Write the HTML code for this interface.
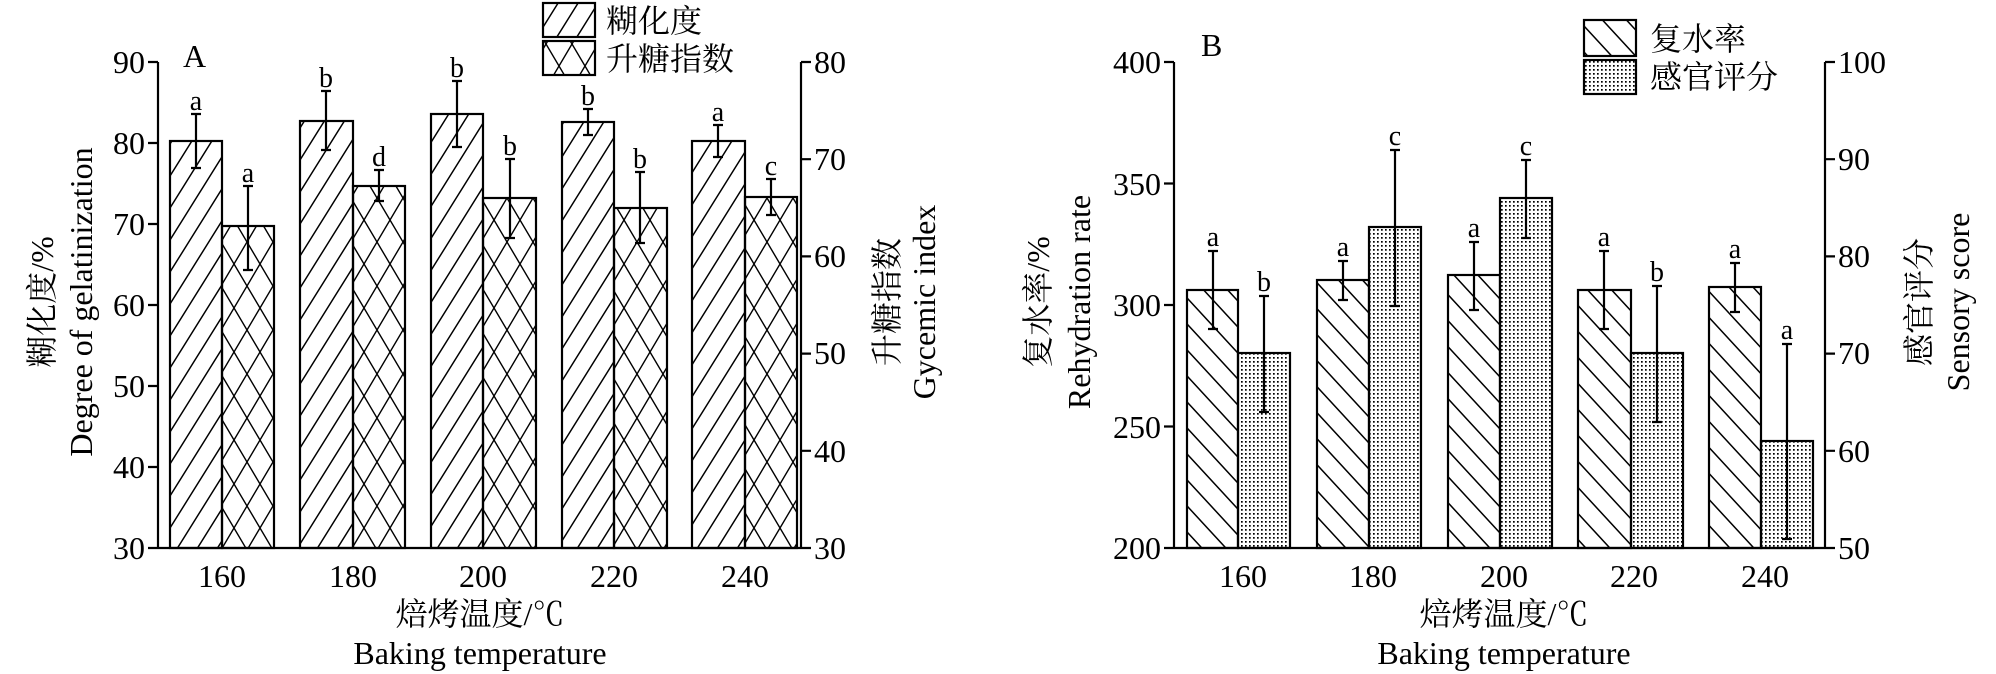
<!DOCTYPE html>
<html><head><meta charset="utf-8"><style>
html,body{margin:0;padding:0;background:#fff}
svg{display:block}
text{font-family:"Liberation Serif","Noto Serif CJK SC","Noto Sans CJK SC",serif;fill:#000}
</style></head><body>
<svg width="1996" height="674" viewBox="0 0 1996 674" xmlns="http://www.w3.org/2000/svg">
<defs>
<pattern id="fw" patternUnits="userSpaceOnUse" width="20" height="32"><path d="M-5,40 L25,-8 M-25,40 L5,-8 M15,40 L45,-8" stroke="#000" stroke-width="1.5" fill="none"/></pattern>
<pattern id="cx" patternUnits="userSpaceOnUse" width="26" height="44"><path d="M0,0 L26,44 M0,44 L26,0 M-26,0 L26,88 M0,-44 L52,44" stroke="#000" stroke-width="1.4" fill="none"/></pattern>
<pattern id="bk" patternUnits="userSpaceOnUse" width="24" height="26"><path d="M0,0 L24,26 M-24,0 L24,52 M0,-26 L48,26" stroke="#000" stroke-width="1.5" fill="none"/></pattern>
<pattern id="dt" patternUnits="userSpaceOnUse" width="4" height="4"><rect x="1" y="1" width="1.7" height="1.7" fill="#000"/></pattern>
</defs>
<rect width="1996" height="674" fill="#fff"/>

<!-- ===== Panel A ===== -->
<g stroke="#000" stroke-width="2.2" fill="none">
<line x1="158" y1="62" x2="158" y2="548"/>
<line x1="801" y1="62" x2="801" y2="548"/>
<line x1="158" y1="548" x2="801" y2="548"/>
<path d="M148,62H158 M148,143H158 M148,224H158 M148,305H158 M148,386H158 M148,467H158 M148,548H158"/>
<path d="M801,62H811 M801,159.2H811 M801,256.4H811 M801,353.6H811 M801,450.8H811 M801,548H811"/>
</g>
<g font-size="32" text-anchor="end">
<text x="145" y="73">90</text><text x="145" y="154">80</text><text x="145" y="235">70</text><text x="145" y="316">60</text><text x="145" y="397">50</text><text x="145" y="478">40</text><text x="145" y="559">30</text>
</g>
<g font-size="32" text-anchor="start">
<text x="814" y="73">80</text><text x="814" y="170">70</text><text x="814" y="267">60</text><text x="814" y="364">50</text><text x="814" y="462">40</text><text x="814" y="559">30</text>
</g>
<text x="183" y="67" font-size="32">A</text>
<g stroke="#000" stroke-width="2.2">
<rect x="170" y="141" width="52" height="407" fill="url(#fw)"/>
<rect x="222" y="226" width="52" height="322" fill="url(#cx)"/>
<rect x="300" y="121" width="53" height="427" fill="url(#fw)"/>
<rect x="353" y="186" width="52" height="362" fill="url(#cx)"/>
<rect x="431" y="114" width="52" height="434" fill="url(#fw)"/>
<rect x="483" y="198" width="53" height="350" fill="url(#cx)"/>
<rect x="562" y="122" width="52" height="426" fill="url(#fw)"/>
<rect x="614" y="208" width="53" height="340" fill="url(#cx)"/>
<rect x="692" y="141" width="53" height="407" fill="url(#fw)"/>
<rect x="745" y="197" width="52" height="351" fill="url(#cx)"/>
</g>
<g stroke="#000" stroke-width="2.2" fill="none">
<path d="M196,114V168 M191,114H201 M191,168H201"/>
<path d="M248,186V270 M243,186H253 M243,270H253"/>
<path d="M326,91V150 M321,91H331 M321,150H331"/>
<path d="M379,170V201 M374,170H384 M374,201H384"/>
<path d="M457,81V147 M452,81H462 M452,147H462"/>
<path d="M510,159V238 M505,159H515 M505,238H515"/>
<path d="M588,109V135 M583,109H593 M583,135H593"/>
<path d="M640,172V243 M635,172H645 M635,243H645"/>
<path d="M718,125V157 M713,125H723 M713,157H723"/>
<path d="M771,179V215 M766,179H776 M766,215H776"/>
</g>
<g font-size="28" text-anchor="middle">
<text x="196" y="110">a</text><text x="248" y="182">a</text>
<text x="326" y="87">b</text><text x="379" y="166">d</text>
<text x="457" y="77">b</text><text x="510" y="155">b</text>
<text x="588" y="105">b</text><text x="640" y="168">b</text>
<text x="718" y="121">a</text><text x="771" y="175">c</text>
</g>
<g font-size="32" text-anchor="middle">
<text x="222" y="587">160</text><text x="353" y="587">180</text><text x="483" y="587">200</text><text x="614" y="587">220</text><text x="745" y="587">240</text>
<text x="480" y="625">焙烤温度/℃</text>
<text x="480" y="664">Baking temperature</text>
</g>
<text transform="translate(53,302) rotate(-90)" font-size="32" text-anchor="middle">糊化度/%</text>
<text transform="translate(92,302) rotate(-90)" font-size="32" text-anchor="middle">Degree of gelatinization</text>
<text transform="translate(898,302) rotate(-90)" font-size="32" text-anchor="middle">升糖指数</text>
<text transform="translate(935,302) rotate(-90)" font-size="32" text-anchor="middle">Gycemic index</text>
<rect x="543" y="3" width="52" height="34" fill="url(#fw)" stroke="#000" stroke-width="2.2"/>
<rect x="543" y="41" width="52" height="34" fill="url(#cx)" stroke="#000" stroke-width="2.2"/>
<text x="606" y="32" font-size="32">糊化度</text>
<text x="606" y="70" font-size="32">升糖指数</text>

<!-- ===== Panel B ===== -->
<g stroke="#000" stroke-width="2.2" fill="none">
<line x1="1174" y1="62" x2="1174" y2="548"/>
<line x1="1825" y1="62" x2="1825" y2="548"/>
<line x1="1174" y1="548" x2="1825" y2="548"/>
<path d="M1164,62H1174 M1164,183.5H1174 M1164,305H1174 M1164,426.5H1174 M1164,548H1174"/>
<path d="M1825,62H1835 M1825,159.2H1835 M1825,256.4H1835 M1825,353.6H1835 M1825,450.8H1835 M1825,548H1835"/>
</g>
<g font-size="32" text-anchor="end">
<text x="1161" y="73">400</text><text x="1161" y="195">350</text><text x="1161" y="316">300</text><text x="1161" y="438">250</text><text x="1161" y="559">200</text>
</g>
<g font-size="32" text-anchor="start">
<text x="1838" y="73">100</text><text x="1838" y="170">90</text><text x="1838" y="267">80</text><text x="1838" y="364">70</text><text x="1838" y="462">60</text><text x="1838" y="559">50</text>
</g>
<text x="1201" y="56" font-size="32">B</text>
<g stroke="#000" stroke-width="2.2">
<rect x="1187" y="290" width="51" height="258" fill="url(#bk)"/>
<rect x="1238" y="353" width="52" height="195" fill="url(#dt)"/>
<rect x="1317" y="280" width="52" height="268" fill="url(#bk)"/>
<rect x="1369" y="227" width="52" height="321" fill="url(#dt)"/>
<rect x="1448" y="275" width="52" height="273" fill="url(#bk)"/>
<rect x="1500" y="198" width="52" height="350" fill="url(#dt)"/>
<rect x="1578" y="290" width="53" height="258" fill="url(#bk)"/>
<rect x="1631" y="353" width="52" height="195" fill="url(#dt)"/>
<rect x="1709" y="287" width="52" height="261" fill="url(#bk)"/>
<rect x="1761" y="441" width="52" height="107" fill="url(#dt)"/>
</g>
<g stroke="#000" stroke-width="2.2" fill="none">
<path d="M1213,251V329 M1208,251H1218 M1208,329H1218"/>
<path d="M1264,296V412 M1259,296H1269 M1259,412H1269"/>
<path d="M1343,261V300 M1338,261H1348 M1338,300H1348"/>
<path d="M1395,150V306 M1390,150H1400 M1390,306H1400"/>
<path d="M1474,242V310 M1469,242H1479 M1469,310H1479"/>
<path d="M1526,160V238 M1521,160H1531 M1521,238H1531"/>
<path d="M1604,251V329 M1599,251H1609 M1599,329H1609"/>
<path d="M1657,286V422 M1652,286H1662 M1652,422H1662"/>
<path d="M1735,263V312 M1730,263H1740 M1730,312H1740"/>
<path d="M1787,344V539 M1782,344H1792 M1782,539H1792"/>
</g>
<g font-size="28" text-anchor="middle">
<text x="1213" y="246">a</text><text x="1264" y="291">b</text>
<text x="1343" y="256">a</text><text x="1395" y="145">c</text>
<text x="1474" y="237">a</text><text x="1526" y="155">c</text>
<text x="1604" y="246">a</text><text x="1657" y="281">b</text>
<text x="1735" y="258">a</text><text x="1787" y="339">a</text>
</g>
<g font-size="32" text-anchor="middle">
<text x="1243" y="587">160</text><text x="1373" y="587">180</text><text x="1504" y="587">200</text><text x="1634" y="587">220</text><text x="1765" y="587">240</text>
<text x="1504" y="625">焙烤温度/℃</text>
<text x="1504" y="664">Baking temperature</text>
</g>
<text transform="translate(1049,302) rotate(-90)" font-size="32" text-anchor="middle">复水率/%</text>
<text transform="translate(1090,302) rotate(-90)" font-size="32" text-anchor="middle">Rehydration rate</text>
<text transform="translate(1930,302) rotate(-90)" font-size="32" text-anchor="middle">感官评分</text>
<text transform="translate(1969,302) rotate(-90)" font-size="32" text-anchor="middle">Sensory score</text>
<rect x="1584" y="20" width="52" height="36" fill="url(#bk)" stroke="#000" stroke-width="2.2"/>
<rect x="1584" y="60" width="52" height="34" fill="url(#dt)" stroke="#000" stroke-width="2.2"/>
<text x="1650" y="50" font-size="32">复水率</text>
<text x="1650" y="88" font-size="32">感官评分</text>
</svg>
</body></html>
